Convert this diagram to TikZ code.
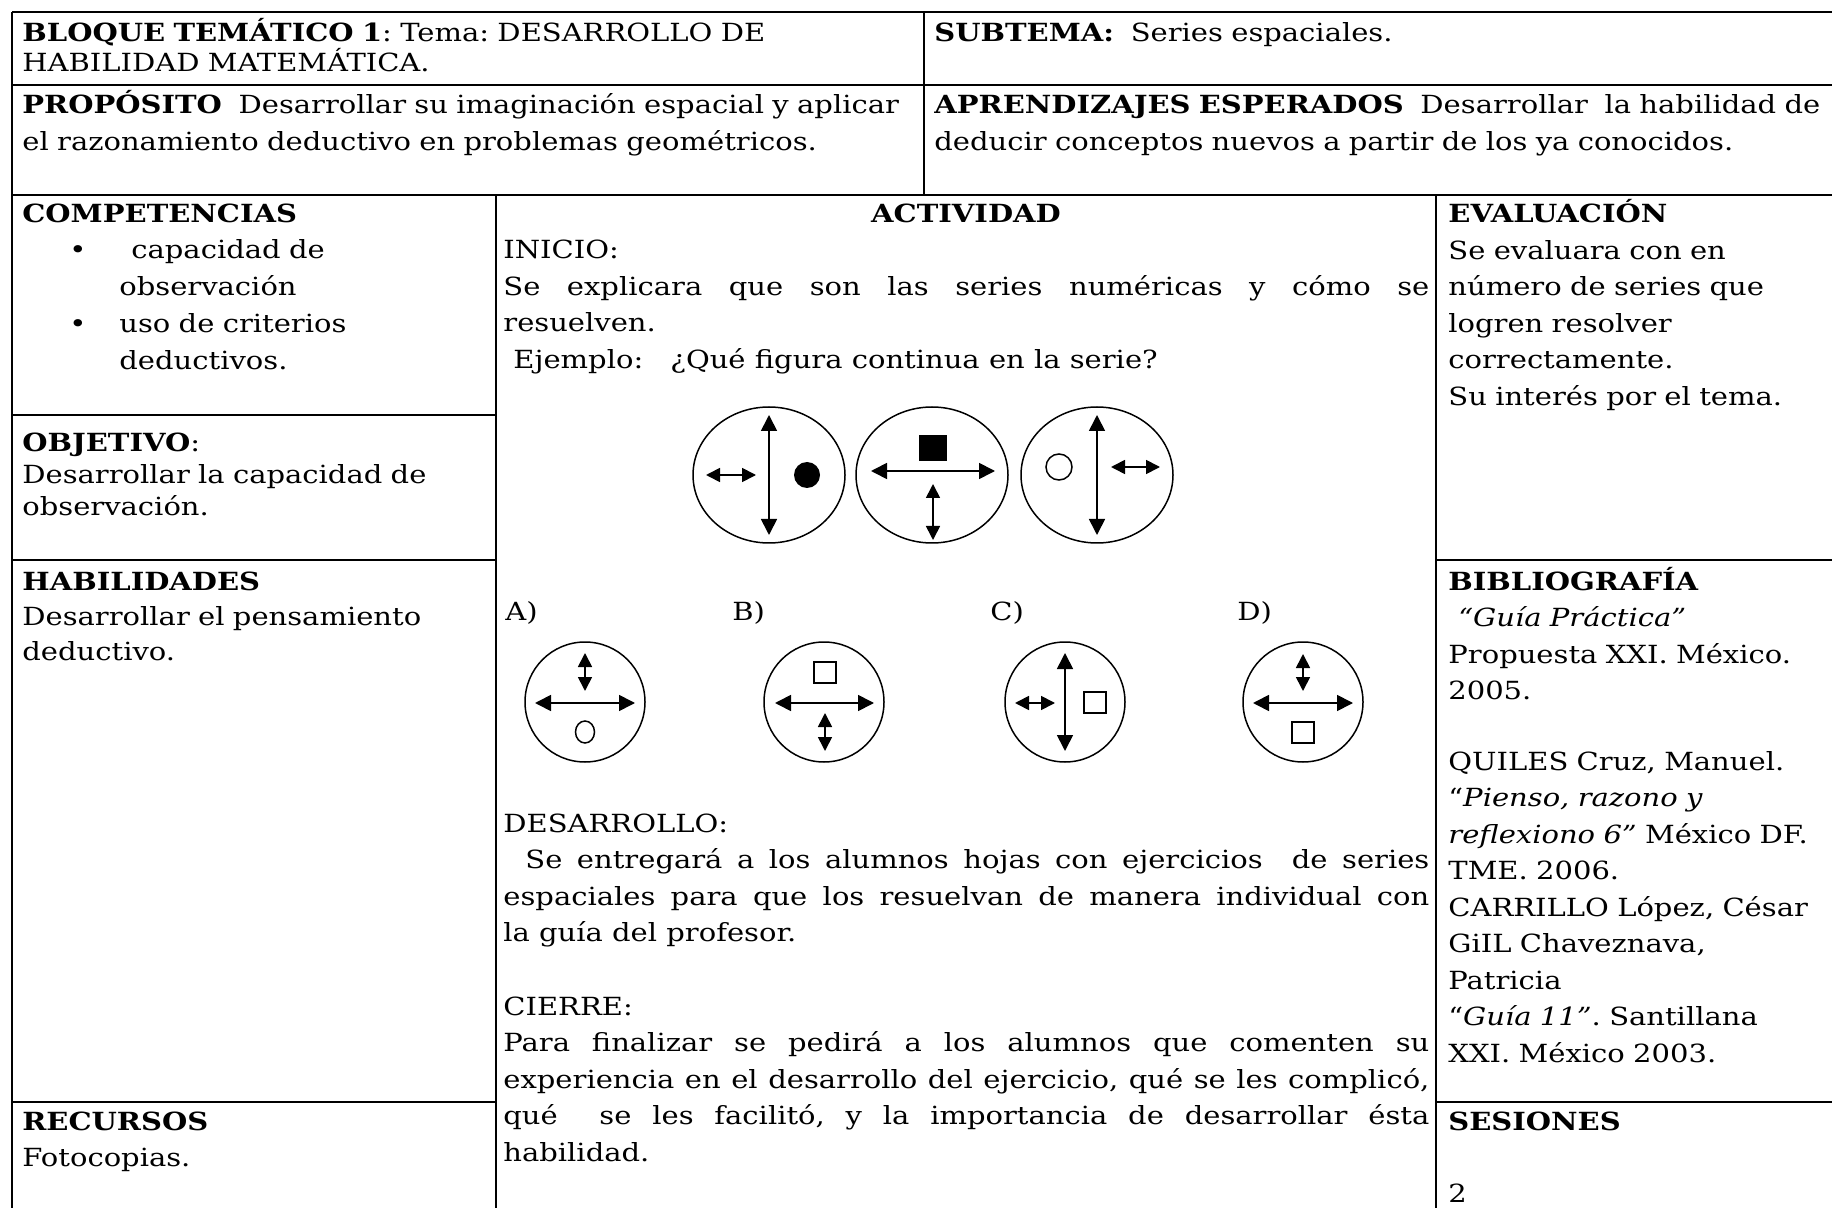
\documentclass[tikz,border=0pt]{standalone}
\usepackage{fontspec}
\setmainfont[FakeStretch=1.16]{DejaVu Serif}
\usetikzlibrary{arrows.meta}
\newcommand\cellfont{\fontsize{12.5}{18.25}\selectfont}
\newcommand\toprowfont{\fontsize{12.5}{15}\selectfont}
\hyphenpenalty=10000
\exhyphenpenalty=10000
\frenchspacing

\begin{document}
\begin{tikzpicture}[x=0.5pt, y=-0.5pt,
    every node/.style={inner sep=0pt, anchor=base west, font=\cellfont},
    toprow/.style={font=\toprowfont, text width=480pt, align=left},
    cell/.style={text width=300pt, align=left},
    just/.style={text width=463pt, align=justify},
    grid/.style={line width=1.25pt},
    fig/.style={line width=0.75pt},
    dbl/.style={{Triangle[length=8pt,width=8pt]}-{Triangle[length=8pt,width=8pt]}, line width=0.85pt},
    sdbl/.style={{Triangle[length=7pt,width=7pt]}-{Triangle[length=7pt,width=7pt]}, line width=0.85pt}]
  \useasboundingbox (0,0) rectangle (1832,1208);

  % Table rules
  \foreach \y in {12,85,195}
    \draw[grid] (12,\y) -- (1832,\y);
  \draw[grid] (12,12) -- (12,1208);
  \draw[grid] (924,12) -- (924,195);
  \draw[grid] (496,195) -- (496,1208);
  \draw[grid] (1436,195) -- (1436,1208);
  \draw[grid] (12,415) -- (496,415);
  \foreach \y in {560,1102} {
    \draw[grid] (12,\y) -- (496,\y);
    \draw[grid] (1436,\y) -- (1832,\y);
  }

  % Header rows
  \node[toprow] (bloque) at (22,42) {\textbf{BLOQUE TEMÁTICO 1}: Tema: DESARROLLO DE\\ HABILIDAD MATEMÁTICA.};
  \node[toprow] (subtema) at (934,42) {\textbf{SUBTEMA:}\ \ Series espaciales.};
  \node[toprow, font=\cellfont] (proposito) at (22,114) {\textbf{PROPÓSITO}\ \ Desarrollar su imaginación espacial y aplicar\\ el razonamiento deductivo en problemas geométricos.};
  \node[toprow, font=\cellfont] (aprendizajes) at (934,114) {\textbf{APRENDIZAJES ESPERADOS}\ \ Desarrollar\ \ la habilidad de\\ deducir conceptos nuevos a partir de los ya conocidos.};

  % Left column
  \node (competencias) at (22,223) {\textbf{COMPETENCIAS}};
  \node (bul1) at (69,259) {•};
  \node (bul2) at (69,333) {•};
  \node[cell] (item1) at (119,259) {\hspace*{6pt}capacidad de\\ observación};
  \node[cell] (item2) at (119,333) {uso de criterios\\ deductivos.};
  \node[cell, font=\fontsize{12.5}{16}\selectfont] (objetivo) at (22,452) {\textbf{OBJETIVO}:\\ Desarrollar la capacidad de\\ observación.};
  \node[cell, font=\fontsize{12.5}{17.5}\selectfont] (habilidades) at (22,590) {\textbf{HABILIDADES}\\ Desarrollar el pensamiento\\ deductivo.};
  \node[cell] (recursos) at (22,1130) {\textbf{RECURSOS}\\ Fotocopias.};

  % Activity column
  \node[anchor=base] (actividad) at (966,223) {\textbf{ACTIVIDAD}};
  \node[just] (inicio) at (503,259) {INICIO:\\ Se explicara que son las series numéricas y cómo se\linebreak resuelven.\\ \hspace*{5pt}Ejemplo:\hspace{9pt} ¿Qué figura continua en la serie?};

  % Example series
  \foreach \cx in {769,932,1097}
    \draw[fig] (\cx,475) ellipse [x radius=76, y radius=68];
  \draw[dbl] (769,415) -- (769,535);
  \draw[sdbl] (706,475) -- (756,475);
  \fill (807,475) circle [radius=13];
  \fill (919,435) rectangle (947,461);
  \draw[dbl] (871,471) -- (995,471);
  \draw[sdbl] (933,484) -- (933,540);
  \draw[dbl] (1097,415) -- (1097,535);
  \draw[fig] (1059,467) circle [radius=13];
  \draw[sdbl] (1111,467) -- (1160,467);

  % Answers
  \node (lblA) at (505,620) {A)};
  \node (lblB) at (732,620) {B)};
  \node (lblC) at (990,620) {C)};
  \node (lblD) at (1237,620) {D)};
  \foreach \cx in {585,824,1065,1303}
    \draw[fig] (\cx,702) circle [radius=60];
  \draw[sdbl] (585,653) -- (585,691);
  \draw[dbl] (535,703) -- (635,703);
  \draw[fig] (585,732) ellipse [x radius=9.5, y radius=11];
  \draw[fig] (814,662) rectangle (836,683);
  \draw[dbl] (775,703) -- (874,703);
  \draw[sdbl] (825,713) -- (825,751);
  \draw[dbl] (1065,653) -- (1065,751);
  \draw[sdbl] (1015,703) -- (1055,703);
  \draw[fig] (1084,692) rectangle (1106,713);
  \draw[sdbl] (1303,654) -- (1303,691);
  \draw[dbl] (1253,703) -- (1353,703);
  \draw[fig] (1292,722) rectangle (1314,743);

  \node[just] (desarrollo) at (503,832) {DESARROLLO:\\ \hspace*{11pt}Se entregará a los alumnos hojas con ejercicios\ \ de series\linebreak espaciales para que los resuelvan de manera individual con\linebreak la guía del profesor.};
  \node[just] (cierre) at (503,1015) {CIERRE:\\ Para finalizar se pedirá a los alumnos que comenten su\linebreak experiencia en el desarrollo del ejercicio, qué se les complicó,\linebreak qué\ \ se les facilitó, y la importancia de desarrollar ésta\linebreak habilidad.};

  % Right column
  \node[cell] (evaluacion) at (1448,223) {\textbf{EVALUACIÓN}\\ Se evaluara con en\\ número de series que\\ logren resolver\\ correctamente.\\ Su interés por el tema.};
  \node[cell] (biblio) at (1448,590) {\textbf{BIBLIOGRAFÍA}\\ \hspace*{5pt}\textit{“Guía Práctica”}\\ Propuesta XXI. México.\\ 2005.};
  \node[cell] (quiles) at (1448,770) {QUILES Cruz, Manuel.\\ “\textit{Pienso, razono y}\\ \textit{reflexiono 6”} México DF.\\ TME. 2006.\\ CARRILLO López, César\\ GiIL Chaveznava,\\ Patricia\\ “\textit{Guía 11”}. Santillana\\ XXI. México 2003.};
  \node (sesiones) at (1448,1130) {\textbf{SESIONES}};
  \node (numses) at (1448,1202) {2};
\end{tikzpicture}
\end{document}
